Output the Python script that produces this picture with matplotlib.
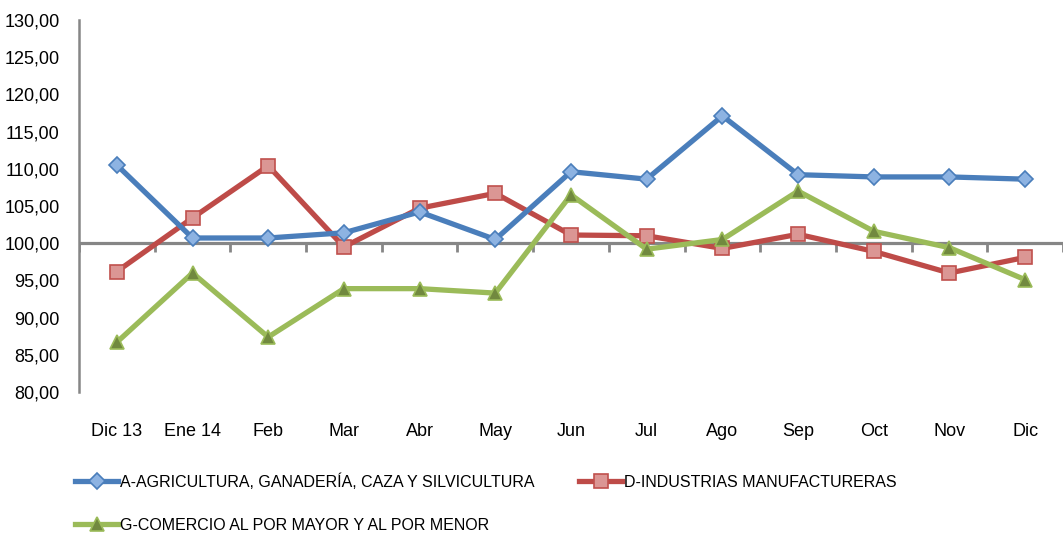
import matplotlib
matplotlib.use('Agg')
import matplotlib.pyplot as plt
from matplotlib.ticker import FuncFormatter
import numpy as np

plt.rcParams['font.family'] = ['Liberation Sans Narrow', 'Liberation Sans', 'DejaVu Sans']

months = ['Dic 13', 'Ene 14', 'Feb', 'Mar', 'Abr', 'May', 'Jun', 'Jul', 'Ago',
          'Sep', 'Oct', 'Nov', 'Dic']

agricultura = [110.5, 100.7, 100.7, 101.4, 104.2, 100.5, 109.6, 108.6, 117.1,
               109.2, 108.9, 108.9, 108.6]
industrias = [96.2, 103.4, 110.4, 99.5, 104.7, 106.7, 101.1, 101.0, 99.3,
              101.2, 98.9, 96.0, 98.1]
comercio = [86.7, 96.0, 87.4, 93.9, 93.9, 93.3, 106.5, 99.2, 100.5,
            107.0, 101.6, 99.4, 95.1]

labels = ['A-AGRICULTURA, GANADERÍA, CAZA Y SILVICULTURA',
          'D-INDUSTRIAS MANUFACTURERAS',
          'G-COMERCIO AL POR MAYOR Y AL POR MENOR']

fig = plt.figure(figsize=(10.63, 5.35), dpi=100)
ax = fig.add_axes([0.0743, 0.267, 0.9257, 0.696])

x = np.arange(len(months))

l_a, = ax.plot(x, agricultura, color='#4A7EBB', lw=3.8, marker='D', markersize=8,
               markerfacecolor='#8DB3E2', markeredgecolor='#4A7EBB', markeredgewidth=1.2,
               label=labels[0], zorder=4)
l_d, = ax.plot(x, industrias, color='#BE4B48', lw=3.8, marker='s', markersize=10,
               markerfacecolor='#DB9694', markeredgecolor='#C0504D', markeredgewidth=1.2,
               label=labels[1], zorder=3)
l_g, = ax.plot(x, comercio, color='#9BBB59', lw=3.8, marker='^', markersize=10,
               markerfacecolor='#71893F', markeredgecolor='#9BBB59', markeredgewidth=1.2,
               label=labels[2], zorder=5)

# eje de categorías cruzando en 100
ax.axhline(100, color='#868686', lw=2.3, zorder=2)
ax.vlines(np.arange(-0.5, len(months)), 98.8, 100, color='#868686', lw=2, zorder=2)

ax.set_xlim(-0.5, len(months) - 0.5)
ax.set_ylim(80, 130)
ax.set_yticks(np.arange(80, 131, 5))
ax.yaxis.set_major_formatter(FuncFormatter(lambda v, _: f'{v:.2f}'.replace('.', ',')))
ax.set_xticks(x)
ax.set_xticklabels(months)
ax.tick_params(axis='both', length=0, labelsize=13, colors='black')
ax.tick_params(axis='x', pad=22)
ax.tick_params(axis='y', pad=14)

for s in ['top', 'right', 'bottom']:
    ax.spines[s].set_visible(False)
ax.spines['left'].set_color('#868686')
ax.spines['left'].set_linewidth(1.8)

# orden por columnas para que quede A, D en la primera fila y G en la segunda
fig.legend([l_a, l_g, l_d], [labels[0], labels[2], labels[1]],
           loc='upper left', bbox_to_anchor=(0.0706, 0.115), ncol=2, frameon=False,
           fontsize=11.5, handlelength=2.7, handletextpad=0.1, columnspacing=2.8,
           labelspacing=1.75, borderpad=0, borderaxespad=0)

fig.savefig('out.png', dpi=100, facecolor='white')
